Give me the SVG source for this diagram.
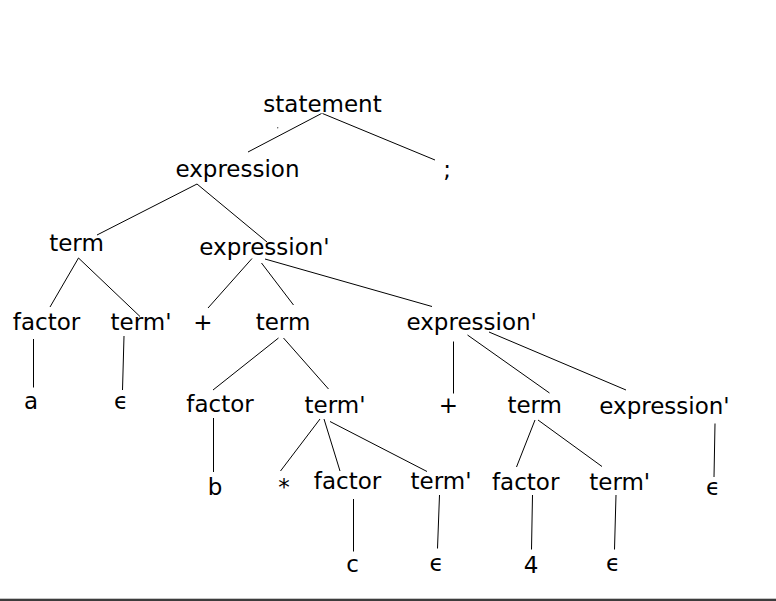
<svg xmlns="http://www.w3.org/2000/svg" width="776" height="601" viewBox="0 0 776 601">
<style>
text{font-family:"DejaVu Sans","Liberation Sans",sans-serif;font-size:23px;fill:#000;text-anchor:middle}
.e line{stroke:#000;stroke-width:1}
</style>
<rect x="0" y="0" width="776" height="601" fill="#fff"/>
<g class="e" id="connectors">
<line x1="321.5" y1="113.5" x2="248" y2="152"/>
<line x1="322.5" y1="113.5" x2="435" y2="160"/>
<line x1="197" y1="184" x2="97" y2="235"/>
<line x1="197" y1="184" x2="267" y2="242"/>
<line x1="78.5" y1="258" x2="50" y2="307"/>
<line x1="78.5" y1="258" x2="140" y2="316.5"/>
<line x1="252" y1="258.5" x2="208" y2="308"/>
<line x1="261.5" y1="263" x2="293.5" y2="305"/>
<line x1="265" y1="259" x2="432" y2="306.5"/>
<line x1="33.5" y1="339" x2="33.5" y2="387.5"/>
<line x1="124" y1="336" x2="122.5" y2="390"/>
<line x1="453.5" y1="341.5" x2="453.5" y2="393.5"/>
<line x1="467.5" y1="335" x2="549.5" y2="393"/>
<line x1="489" y1="332" x2="626" y2="390"/>
<line x1="278.5" y1="338" x2="213" y2="390"/>
<line x1="283.5" y1="338" x2="328.5" y2="389"/>
<line x1="213.5" y1="418" x2="213.5" y2="472"/>
<line x1="320" y1="419" x2="280.5" y2="471"/>
<line x1="324" y1="419" x2="340" y2="471"/>
<line x1="330" y1="421.5" x2="427" y2="471.5"/>
<line x1="535" y1="420" x2="516.5" y2="467"/>
<line x1="538" y1="420" x2="602" y2="466.5"/>
<line x1="715" y1="423.5" x2="714" y2="477"/>
<line x1="353.5" y1="499" x2="353.5" y2="551.5"/>
<line x1="439.5" y1="495" x2="437.5" y2="548.5"/>
<line x1="532.5" y1="495" x2="531.5" y2="549.5"/>
<line x1="616" y1="495" x2="614.5" y2="549.5"/>
</g>
<circle cx="277.7" cy="127.7" r="0.7" fill="#555"/>
<g id="n-statement"><text x="322.5" y="112">statement</text></g>
<g id="n-expression"><text x="237.5" y="177">expression</text></g>
<g id="n-semicolon"><text x="447" y="177">;</text></g>
<g id="n-term1"><text x="76.5" y="251">term</text></g>
<g id="n-exprp1"><text x="264.5" y="255">expression'</text></g>
<g id="n-factor1"><text x="46.5" y="330">factor</text></g>
<g id="n-termp1"><text x="141" y="330">term'</text></g>
<g id="n-plus1"><text x="203" y="330">+</text></g>
<g id="n-term2"><text x="283" y="330">term</text></g>
<g id="n-exprp2"><text x="471.7" y="330">expression'</text></g>
<g id="n-a"><text x="31" y="409">a</text></g>
<g id="n-eps1"><text x="121" y="409">ϵ</text></g>
<g id="n-factor2"><text x="220" y="412">factor</text></g>
<g id="n-termp2"><text x="335" y="413">term'</text></g>
<g id="n-plus2"><text x="448.5" y="413">+</text></g>
<g id="n-term3"><text x="534.7" y="413">term</text></g>
<g id="n-exprp3"><text x="664.5" y="414">expression'</text></g>
<g id="n-b"><text x="215" y="495">b</text></g>
<g id="n-star"><text x="284" y="495">*</text></g>
<g id="n-factor3"><text x="347.5" y="489">factor</text></g>
<g id="n-termp3"><text x="441" y="489">term'</text></g>
<g id="n-factor4"><text x="525.7" y="490">factor</text></g>
<g id="n-termp4"><text x="619.7" y="490">term'</text></g>
<g id="n-eps2"><text x="713" y="495">ϵ</text></g>
<g id="n-c"><text x="352.5" y="572">c</text></g>
<g id="n-eps3"><text x="436.7" y="571">ϵ</text></g>
<g id="n-4"><text x="531" y="573">4</text></g>
<g id="n-eps4"><text x="613" y="571">ϵ</text></g>
<rect x="0" y="598.7" width="776" height="2.3" fill="#3c3c3c"/>
</svg>
